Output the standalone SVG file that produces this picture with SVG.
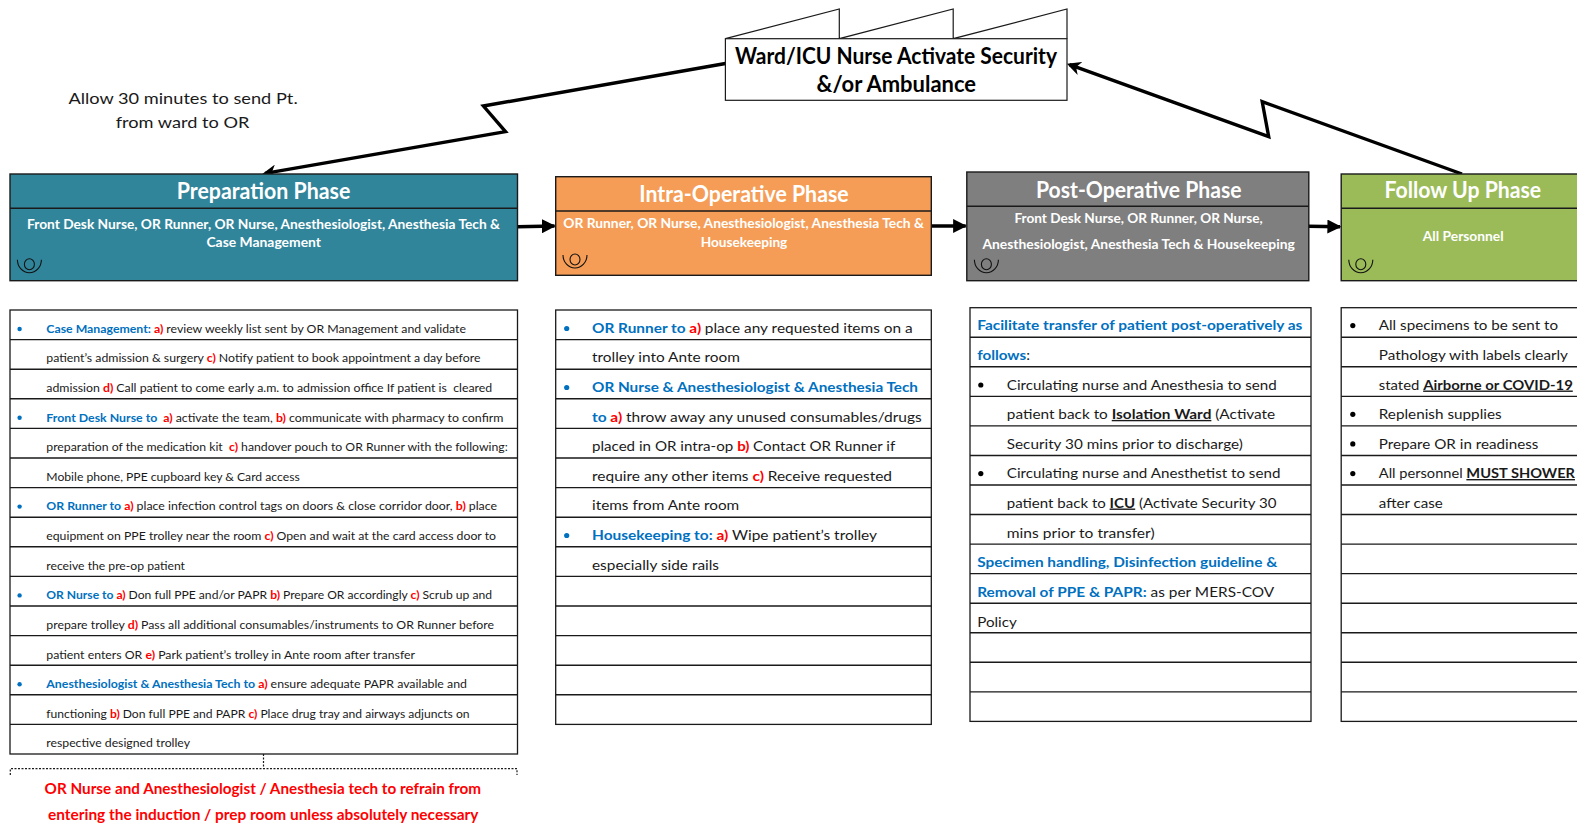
<svg xmlns="http://www.w3.org/2000/svg" width="1577" height="823" viewBox="0 0 1577 823">
<style>
text{font-family:"Lato","Carlito","Liberation Sans",sans-serif;fill:#1a1a1a}
.box{stroke:#1a1a1a;stroke-width:1.4}
.div{stroke:#1a1a1a;stroke-width:1.4;fill:none}
.tbl{fill:#fff;stroke:#1a1a1a;stroke-width:1.3}
.title{font-size:22px;font-weight:700;fill:#fff}
.sub{font-size:13px;font-weight:700;fill:#fff}
.p{font-size:11.5px}
.m{font-size:14px}
.b{fill:#0070c0;font-weight:700}
.r{fill:#f00;font-weight:700}
.u{font-weight:700;text-decoration:underline}
.dot1{fill:#0070c0}
.dot2{fill:#000}
.eye{fill:none;stroke:#111;stroke-width:1.1}
.conn{fill:none;stroke:#000;stroke-width:3.4}
.head{font-size:22px;font-weight:700;fill:#000}
.note{font-size:16px;fill:#1a1a1a}
.warn{font-size:15px;font-weight:700;fill:#f00}
</style>
<defs>
<marker id="arr" viewBox="0 0 10 10" refX="9" refY="5" markerUnits="userSpaceOnUse" markerWidth="14" markerHeight="14" orient="auto"><path d="M0 0L10 5L0 10z" fill="#000"/></marker>
<marker id="arr2" viewBox="0 0 10 10" refX="8" refY="5" markerUnits="userSpaceOnUse" markerWidth="14" markerHeight="14" orient="auto"><path d="M0 0L10 5L0 10L3 5z" fill="#000"/></marker>
<g id="eye"><ellipse cx="0" cy="0" rx="5" ry="5.5" class="eye"/><path d="M-12 -4.5A12 13 0 0 0 12 -4.5" class="eye"/></g>
</defs>

<g id="connectors">
<path class="conn" d="M725.4 63.5L483.4 106L505.5 131.7L265 173.4" marker-end="url(#arr2)"/>
<path class="conn" d="M1462 174L1262.2 101.7L1268.7 136.7L1069.5 64.6" marker-end="url(#arr2)"/>
<path class="conn" d="M517.5 226.7L554.5 226" marker-end="url(#arr)"/>
<path class="conn" d="M930.7 226L965.7 226" marker-end="url(#arr)"/>
<path class="conn" d="M1308.5 226.3L1340 226.7" marker-end="url(#arr)"/>
</g>

<g id="ward-node">
<path d="M725.4 38.7L839.3 9V38.7L953.2 9V38.7L1067 9V38.7" fill="#fff" stroke="#1a1a1a" stroke-width="1.2"/>
<rect x="725.4" y="38.7" width="341.6" height="61.6" fill="#fff" stroke="#1a1a1a" stroke-width="1.2"/>
<text class="head" x="735" y="63.5" textLength="322" lengthAdjust="spacingAndGlyphs">Ward/ICU Nurse Activate Security</text>
<text class="head" x="816.5" y="91.5" textLength="159.5" lengthAdjust="spacingAndGlyphs">&amp;/or Ambulance</text>
</g>

<g id="note-time">
<text class="note" x="68.4" y="104" textLength="229.3" lengthAdjust="spacingAndGlyphs">Allow 30 minutes to send Pt.</text>
<text class="note" x="115.7" y="127.5" textLength="133.7" lengthAdjust="spacingAndGlyphs">from ward to OR</text>
</g>

<g id="prep-phase">
<rect class="box" x="10" y="174" width="507.5" height="106.7" fill="#31859b"/>
<path class="div" d="M10 208.3H517.5"/>
<text class="title" x="176.7" y="198.5" textLength="173.6" lengthAdjust="spacingAndGlyphs">Preparation Phase</text>
<text class="sub" x="27" y="229" textLength="473" lengthAdjust="spacingAndGlyphs">Front Desk Nurse, OR Runner, OR Nurse, Anesthesiologist, Anesthesia Tech &amp;</text>
<text class="sub" x="206.4" y="247.3" textLength="114.6" lengthAdjust="spacingAndGlyphs">Case Management</text>
<use href="#eye" x="29.4" y="264.3"/>
</g>

<g id="intra-phase">
<rect class="box" x="555.7" y="176.7" width="375.6" height="98.6" fill="#f59d56"/>
<path class="div" d="M555.7 211H931.3"/>
<text class="title" x="639.3" y="201.5" textLength="209.4" lengthAdjust="spacingAndGlyphs">Intra-Operative Phase</text>
<text class="sub" x="563.3" y="228.3" textLength="360.7" lengthAdjust="spacingAndGlyphs">OR Runner, OR Nurse, Anesthesiologist, Anesthesia Tech &amp;</text>
<text class="sub" x="700.7" y="246.7" textLength="86.6" lengthAdjust="spacingAndGlyphs">Housekeeping</text>
<use href="#eye" x="575" y="259.5"/>
</g>

<g id="post-phase">
<rect class="box" x="966.8" y="172" width="342" height="108.7" fill="#7f7f7f"/>
<path class="div" d="M966.8 206.3H1308.8"/>
<text class="title" x="1036" y="197.5" textLength="205.6" lengthAdjust="spacingAndGlyphs">Post-Operative Phase</text>
<text class="sub" x="1014.4" y="223.3" textLength="248.4" lengthAdjust="spacingAndGlyphs">Front Desk Nurse, OR Runner, OR Nurse,</text>
<text class="sub" x="982.4" y="249" textLength="312.4" lengthAdjust="spacingAndGlyphs">Anesthesiologist, Anesthesia Tech &amp; Housekeeping</text>
<use href="#eye" x="986.4" y="264.3"/>
</g>

<g id="follow-phase">
<rect class="box" x="1341.2" y="174" width="260" height="106.7" fill="#9bbb59"/>
<path class="div" d="M1341.2 208.3H1601"/>
<text class="title" x="1384.4" y="198" textLength="156.8" lengthAdjust="spacingAndGlyphs">Follow Up Phase</text>
<text class="sub" x="1422.8" y="241" textLength="80.8" lengthAdjust="spacingAndGlyphs">All Personnel</text>
<use href="#eye" x="1360.8" y="264.3"/>
</g>

<g id="prep-list">
<rect class="tbl" x="10" y="310" width="507.5" height="444"/>
<path class="div" d="M10 339.6H517.5M10 369.2H517.5M10 398.8H517.5M10 428.4H517.5M10 458H517.5M10 487.6H517.5M10 517.2H517.5M10 546.8H517.5M10 576.4H517.5M10 606H517.5M10 635.6H517.5M10 665.2H517.5M10 694.8H517.5M10 724.4H517.5"/>
<circle class="dot1" cx="19.6" cy="329" r="2.2"/><circle class="dot1" cx="19.6" cy="417.8" r="2.2"/><circle class="dot1" cx="19.6" cy="506.6" r="2.2"/><circle class="dot1" cx="19.6" cy="595.4" r="2.2"/><circle class="dot1" cx="19.6" cy="684.2" r="2.2"/>
<text class="p" x="46.3" y="333" textLength="419.7" lengthAdjust="spacingAndGlyphs"><tspan class="b">Case Management: </tspan><tspan class="r">a) </tspan>review weekly list sent by OR Management and validate</text>
<text class="p" x="46.3" y="362" textLength="434.1" lengthAdjust="spacingAndGlyphs">patient’s admission &amp; surgery <tspan class="r">c) </tspan>Notify patient to book appointment a day before</text>
<text class="p" x="46.3" y="392.2" textLength="445.9" lengthAdjust="spacingAndGlyphs" xml:space="preserve">admission <tspan class="r">d) </tspan>Call patient to come early a.m. to admission office If patient is  cleared</text>
<text class="p" x="46.3" y="421.8" textLength="457.1" lengthAdjust="spacingAndGlyphs" xml:space="preserve"><tspan class="b">Front Desk Nurse to  </tspan><tspan class="r">a) </tspan>activate the team, <tspan class="r">b) </tspan>communicate with pharmacy to confirm</text>
<text class="p" x="46.3" y="451.4" textLength="461.5" lengthAdjust="spacingAndGlyphs" xml:space="preserve">preparation of the medication kit  <tspan class="r">c) </tspan>handover pouch to OR Runner with the following:</text>
<text class="p" x="46.3" y="481" textLength="253.4" lengthAdjust="spacingAndGlyphs">Mobile phone, PPE cupboard key &amp; Card access</text>
<text class="p" x="46.3" y="510.2" textLength="450.7" lengthAdjust="spacingAndGlyphs"><tspan class="b">OR Runner to </tspan><tspan class="r">a) </tspan>place infection control tags on doors &amp; close corridor door, <tspan class="r">b) </tspan>place</text>
<text class="p" x="46.3" y="540.2" textLength="449.7" lengthAdjust="spacingAndGlyphs">equipment on PPE trolley near the room <tspan class="r">c) </tspan>Open and wait at the card access door to</text>
<text class="p" x="46.3" y="569.8" textLength="138.7" lengthAdjust="spacingAndGlyphs">receive the pre-op patient</text>
<text class="p" x="46.3" y="599.4" textLength="445.7" lengthAdjust="spacingAndGlyphs"><tspan class="b">OR Nurse to </tspan><tspan class="r">a) </tspan>Don full PPE and/or PAPR <tspan class="r">b) </tspan>Prepare OR accordingly <tspan class="r">c) </tspan>Scrub up and</text>
<text class="p" x="46.3" y="629" textLength="447.7" lengthAdjust="spacingAndGlyphs">prepare trolley <tspan class="r">d) </tspan>Pass all additional consumables/instruments to OR Runner before</text>
<text class="p" x="46.3" y="658.6" textLength="368.7" lengthAdjust="spacingAndGlyphs">patient enters OR <tspan class="r">e) </tspan>Park patient’s trolley in Ante room after transfer</text>
<text class="p" x="46.3" y="688.2" textLength="420.7" lengthAdjust="spacingAndGlyphs"><tspan class="b">Anesthesiologist &amp; Anesthesia Tech to </tspan><tspan class="r">a) </tspan>ensure adequate PAPR available and</text>
<text class="p" x="46.3" y="717.8" textLength="423.3" lengthAdjust="spacingAndGlyphs">functioning <tspan class="r">b) </tspan>Don full PPE and PAPR <tspan class="r">c) </tspan>Place drug tray and airways adjuncts on</text>
<text class="p" x="46.3" y="747.4" textLength="143.7" lengthAdjust="spacingAndGlyphs">respective designed trolley</text>
</g>

<g id="prep-warning">
<path d="M263.5 754V768.7M10.3 775V768.7H517V775" fill="none" stroke="#1a1a1a" stroke-width="1.2" stroke-dasharray="2 1.5"/>
<text class="warn" x="44.6" y="794" textLength="436.4" lengthAdjust="spacingAndGlyphs">OR Nurse and Anesthesiologist / Anesthesia tech to refrain from</text>
<text class="warn" x="48" y="820" textLength="430.4" lengthAdjust="spacingAndGlyphs">entering the induction / prep room unless absolutely necessary</text>
</g>

<g id="intra-list">
<rect class="tbl" x="555.7" y="310" width="375.6" height="414.4"/>
<path class="div" d="M555.7 339.6H931.3M555.7 369.2H931.3M555.7 398.8H931.3M555.7 428.4H931.3M555.7 458H931.3M555.7 487.6H931.3M555.7 517.2H931.3M555.7 546.8H931.3M555.7 576.4H931.3M555.7 606H931.3M555.7 635.6H931.3M555.7 665.2H931.3M555.7 694.8H931.3"/>
<circle class="dot1" cx="566.7" cy="328.5" r="2.6"/><circle class="dot1" cx="566.7" cy="387.5" r="2.6"/><circle class="dot1" cx="566.7" cy="535.5" r="2.6"/>
<text class="m" x="592" y="333" textLength="320.7" lengthAdjust="spacingAndGlyphs"><tspan class="b">OR Runner to </tspan><tspan class="r">a) </tspan>place any requested items on a</text>
<text class="m" x="592" y="362" textLength="148" lengthAdjust="spacingAndGlyphs">trolley into Ante room</text>
<text class="m" x="592" y="392.2" textLength="326" lengthAdjust="spacingAndGlyphs"><tspan class="b">OR Nurse &amp; Anesthesiologist &amp; Anesthesia Tech</tspan></text>
<text class="m" x="592" y="421.8" textLength="329.7" lengthAdjust="spacingAndGlyphs"><tspan class="b">to </tspan><tspan class="r">a) </tspan>throw away any unused consumables/drugs</text>
<text class="m" x="592" y="451.4" textLength="303.3" lengthAdjust="spacingAndGlyphs">placed in OR intra-op <tspan class="r">b) </tspan>Contact OR Runner if</text>
<text class="m" x="592" y="481" textLength="300" lengthAdjust="spacingAndGlyphs">require any other items <tspan class="r">c) </tspan>Receive requested</text>
<text class="m" x="592" y="510" textLength="147.2" lengthAdjust="spacingAndGlyphs">items from Ante room</text>
<text class="m" x="592" y="540.2" textLength="285" lengthAdjust="spacingAndGlyphs"><tspan class="b">Housekeeping to: </tspan><tspan class="r">a) </tspan>Wipe patient’s trolley</text>
<text class="m" x="592" y="569.8" textLength="127" lengthAdjust="spacingAndGlyphs">especially side rails</text>
</g>

<g id="post-list">
<rect class="tbl" x="970" y="307.7" width="341" height="413.7"/>
<path class="div" d="M970 337.25H1311M970 366.8H1311M970 396.35H1311M970 425.9H1311M970 455.45H1311M970 485H1311M970 514.55H1311M970 544.1H1311M970 573.65H1311M970 603.2H1311M970 632.75H1311M970 662.3H1311M970 691.85H1311"/>
<circle class="dot2" cx="980.8" cy="385" r="2.6"/><circle class="dot2" cx="980.8" cy="473.6" r="2.6"/>
<text class="m" x="977.2" y="330.2" textLength="325.2" lengthAdjust="spacingAndGlyphs"><tspan class="b">Facilitate transfer of patient post-operatively as</tspan></text>
<text class="m" x="977.2" y="359.8" textLength="52.8" lengthAdjust="spacingAndGlyphs"><tspan class="b">follows</tspan>:</text>
<text class="m" x="1006.8" y="389.8" textLength="270" lengthAdjust="spacingAndGlyphs">Circulating nurse and Anesthesia to send</text>
<text class="m" x="1006.8" y="418.9" textLength="268.4" lengthAdjust="spacingAndGlyphs">patient back to <tspan class="u">Isolation Ward</tspan> (Activate</text>
<text class="m" x="1006.8" y="449" textLength="236" lengthAdjust="spacingAndGlyphs">Security 30 mins prior to discharge)</text>
<text class="m" x="1006.8" y="478" textLength="273.6" lengthAdjust="spacingAndGlyphs">Circulating nurse and Anesthetist to send</text>
<text class="m" x="1006.8" y="507.5" textLength="269.6" lengthAdjust="spacingAndGlyphs">patient back to <tspan class="u">ICU</tspan> (Activate Security 30</text>
<text class="m" x="1006.8" y="537.7" textLength="147.8" lengthAdjust="spacingAndGlyphs">mins prior to transfer)</text>
<text class="m" x="977.2" y="566.6" textLength="300.1" lengthAdjust="spacingAndGlyphs"><tspan class="b">Specimen handling, Disinfection guideline &amp;</tspan></text>
<text class="m" x="977.2" y="597" textLength="297.1" lengthAdjust="spacingAndGlyphs"><tspan class="b">Removal of PPE &amp; PAPR:</tspan> as per MERS-COV</text>
<text class="m" x="977.2" y="626.5" textLength="39.6" lengthAdjust="spacingAndGlyphs">Policy</text>
</g>

<g id="follow-list">
<rect class="tbl" x="1341.2" y="307.7" width="260" height="413.7"/>
<path class="div" d="M1341.2 337.25H1601M1341.2 366.8H1601M1341.2 396.35H1601M1341.2 425.9H1601M1341.2 455.45H1601M1341.2 485H1601M1341.2 514.55H1601M1341.2 544.1H1601M1341.2 573.65H1601M1341.2 603.2H1601M1341.2 632.75H1601M1341.2 662.3H1601M1341.2 691.85H1601"/>
<circle class="dot2" cx="1352.8" cy="325.6" r="2.6"/><circle class="dot2" cx="1352.8" cy="414.3" r="2.6"/><circle class="dot2" cx="1352.8" cy="443.9" r="2.6"/><circle class="dot2" cx="1352.8" cy="473.6" r="2.6"/>
<text class="m" x="1378.8" y="330.2" textLength="179.2" lengthAdjust="spacingAndGlyphs">All specimens to be sent to</text>
<text class="m" x="1378.8" y="359.8" textLength="189.2" lengthAdjust="spacingAndGlyphs">Pathology with labels clearly</text>
<text class="m" x="1378.8" y="389.5" textLength="194" lengthAdjust="spacingAndGlyphs">stated <tspan class="u">Airborne or COVID-19</tspan></text>
<text class="m" x="1378.8" y="418.9" textLength="122.8" lengthAdjust="spacingAndGlyphs">Replenish supplies</text>
<text class="m" x="1378.8" y="448.8" textLength="159.6" lengthAdjust="spacingAndGlyphs">Prepare OR in readiness</text>
<text class="m" x="1378.8" y="478" textLength="196.2" lengthAdjust="spacingAndGlyphs">All personnel <tspan class="u">MUST SHOWER</tspan></text>
<text class="m" x="1378.8" y="507.5" textLength="64" lengthAdjust="spacingAndGlyphs">after case</text>
</g>
</svg>
